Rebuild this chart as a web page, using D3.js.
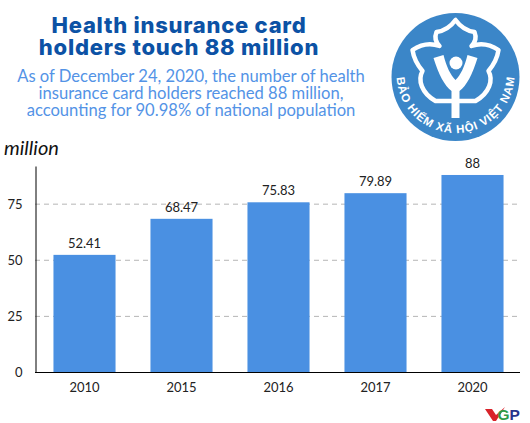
<!DOCTYPE html>
<html>
<head>
<meta charset="utf-8">
<script src="https://cdn.jsdelivr.net/npm/d3@7/dist/d3.min.js"></script>
<style>
  html, body { margin: 0; padding: 0; background: #fff; }
  svg { display: block; }
  text { font-family: Lato, sans-serif; }
</style>
</head>
<body>
<div id="chart"></div>
<script>
const years = ["2010", "2015", "2016", "2017", "2020"];
const cardHolders = [52.41, 68.47, 75.83, 79.89, 88];
const valueLabels = ["52.41", "68.47", "75.83", "79.89", "88"];
const yTicks = [0, 25, 50, 75];
const titleLines = ["Health insurance card", "holders touch 88 million"];
const subtitleLines = [
    "As of December 24, 2020, the number of health",
    "insurance card holders reached 88 million,",
    "accounting for 90.98% of national population"
];

const svg = d3.select("#chart").append("svg")
    .attr("width", 530)
    .attr("height", 423);

svg.append("rect").attr("width", 530).attr("height", 423).attr("fill", "#fff");

// Heading, each block is one text element with a tspan per line
svg.append("text")
    .attr("text-anchor", "middle")
    .style("font-family", "Inter, sans-serif")
    .style("font-weight", 800)
    .style("font-size", "22px")
    .style("letter-spacing", "0.75px")
    .attr("fill", "#0c52a5")
    .selectAll("tspan").data(titleLines).join("tspan")
    .attr("x", 179)
    .attr("y", (d, i) => 33 + i * 22)
    .text(d => d);

svg.append("text")
    .attr("text-anchor", "middle")
    .style("font-size", "16.6px")
    .attr("fill", "#5393e6")
    .selectAll("tspan").data(subtitleLines).join("tspan")
    .attr("x", 191)
    .attr("y", (d, i) => 82 + i * 17.2)
    .text(d => d);

// Chart
const x = d3.scaleBand().domain(years).range([36, 521]).paddingInner(0.36).paddingOuter(0.18);
const y = d3.scaleLinear().domain([0, 92]).range([372.5, 166]);

svg.append("g")
    .selectAll("line").data(yTicks.filter(d => d > 0)).join("line")
    .attr("x1", 35).attr("x2", 520)
    .attr("y1", d => y(d)).attr("y2", d => y(d))
    .attr("stroke", "#b5b5b5")
    .attr("stroke-dasharray", "5 4");

svg.selectAll(".bar").data(cardHolders).join("rect")
    .attr("class", "bar")
    .attr("x", (d, i) => x(years[i]))
    .attr("y", d => y(d))
    .attr("width", x.bandwidth())
    .attr("height", d => y(0) - y(d))
    .attr("fill", "#4a90e2");

svg.selectAll(".val").data(cardHolders).join("text")
    .attr("class", "val")
    .attr("x", (d, i) => x(years[i]) + x.bandwidth() / 2)
    .attr("y", d => y(d) - 7)
    .attr("text-anchor", "middle")
    .style("font-size", "13px")
    .attr("fill", "#222")
    .text((d, i) => valueLabels[i]);

const xAxis = svg.append("g")
    .attr("transform", "translate(0,372)")
    .call(d3.axisBottom(x).tickSize(0).tickPadding(11));
xAxis.select(".domain").attr("stroke", "#000").attr("d", "M35,0.5H520");
xAxis.selectAll("text").style("font-family", "Lato, sans-serif").style("font-size", "13px").attr("fill", "#222");

const yAxis = svg.append("g")
    .attr("transform", "translate(35.5,0)")
    .call(d3.axisLeft(y).tickValues(yTicks).tickSize(0).tickPadding(13));
yAxis.select(".domain").attr("stroke", "#000");
yAxis.selectAll("text").style("font-family", "Lato, sans-serif").style("font-size", "13px").attr("fill", "#222");

svg.append("text")
    .attr("x", 4).attr("y", 155)
    .style("font-size", "20px")
    .style("font-style", "italic")
    .attr("fill", "#111")
    .text("million");

// Logo
const logo = svg.append("g").attr("transform", "translate(455.5,77)");
logo.append("circle").attr("r", 64).attr("fill", "#3b86c8");

const petalSide = "C-5,-50 -12,-46 -19,-45 C-21,-40 -20,-35 -16,-31 C-24,-34 -34,-33 -43,-27 C-42,-20 -38,-12 -33,-6 C-38,3 -34,16 -20,24 L-5,24";
const petalMirror = "L5,24 L20,24 C34,16 38,3 33,-6 C38,-12 42,-20 43,-27 C34,-33 24,-34 16,-31 C20,-35 21,-40 19,-45 C12,-46 5,-50 0,-57 Z";
logo.append("path").attr("d", "M0,-57 " + petalSide + " " + petalMirror)
    .attr("fill", "none").attr("stroke", "#fff").attr("stroke-width", 4.5).attr("stroke-linejoin", "round");
logo.append("circle").attr("cx", 0.5).attr("cy", -14).attr("r", 6.5).attr("fill", "#fff");
logo.append("path")
    .attr("d", "M-22,-19 L-12,-22 C-9,-10 -5,-2 0,3 C5,-2 9,-10 12,-22 L22,-19 C17,-3 11,9 4,14 L4,41 L-4,41 L-4,14 C-11,9 -17,-3 -22,-19 Z")
    .attr("fill", "#fff");

logo.append("path").attr("id", "logo-arc").attr("fill", "none")
    .attr("d", "M-59,-3 A59,59 0 0 0 59,-3");
logo.append("text")
    .style("font-family", "'Liberation Sans', sans-serif")
    .style("font-weight", 700)
    .style("font-size", "11.5px")
    .attr("fill", "#fff")
    .append("textPath")
    .attr("href", "#logo-arc")
    .attr("startOffset", "50%")
    .attr("text-anchor", "middle")
    .attr("textLength", 178)
    .text("BẢO HIỂM XÃ HỘI VIỆT NAM");

// VGP mark
const vgp = svg.append("g").attr("transform", "translate(485,406)");
vgp.append("path").attr("d", "M0,3 L7,3 L11,9 L20,1 L11,15 L8,15 Z").attr("fill", "#d8232a");
vgp.append("text").attr("x", 12.5).attr("y", 14).style("font-family", "'Liberation Sans', sans-serif")
    .style("font-weight", 700).style("font-size", "15.5px").attr("fill", "#2e9b47").text("G");
vgp.append("text").attr("x", 24.5).attr("y", 14).style("font-family", "'Liberation Sans', sans-serif")
    .style("font-weight", 700).style("font-size", "15.5px").attr("fill", "#27348b").text("P");
</script>
</body>
</html>
